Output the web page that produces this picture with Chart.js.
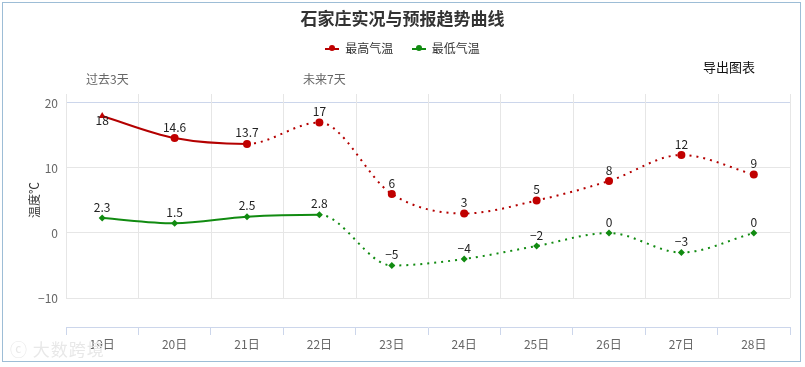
<!DOCTYPE html>
<html>
<head>
<meta charset="utf-8">
<script src="https://cdn.jsdelivr.net/npm/chart.js@4"></script>
<style>
  html, body { margin: 0; padding: 0; background: #fff; }
  body { width: 805px; height: 367px; position: relative; overflow: hidden;
         font-family: "Noto Sans CJK SC", "DejaVu Sans", sans-serif; }
  #frame { position: absolute; left: 2px; top: 2px; width: 797px; height: 358px; border: 1px solid #9dbdd6; }
  #wrap { position: absolute; left: 0; top: 0; width: 805px; height: 367px; }
  .txt { position: absolute; white-space: nowrap; line-height: 1; }
  #title { left: 0; width: 805px; text-align: center; top: 9px; font-size: 17px; font-weight: bold; color: #333; }
  #legend { left: 0; width: 805px; top: 42px; text-align: center; font-size: 12px; color: #333; }
  #legend span.item { display: inline-block; margin: 0 8px; }
  #legend i { display: inline-block; width: 14px; height: 2px; vertical-align: middle; position: relative; margin-right: 6px; top: -1px; }
  #legend i b { position: absolute; left: 4px; top: -3px; width: 6px; height: 6px; border-radius: 3px; }
  #yTitle { left: 34px; top: 200px; font-size: 12px; color: #333; transform: translate(-50%, -50%) rotate(-90deg); }
  #watermark { left: 10px; top: 340px; font-size: 17px; color: #e8e8e8; letter-spacing: 1px; }
</style>
</head>
<body>
<div id="frame"></div>
<div id="wrap"><canvas id="chart" width="805" height="367"></canvas></div>
<div class="txt" id="title">石家庄实况与预报趋势曲线</div>
<div class="txt" id="legend">
  <span class="item"><i style="background:#b40000"><b style="background:#c00000"></b></i>最高气温</span>
  <span class="item"><i style="background:#118b11"><b style="background:#118b11"></b></i>最低气温</span>
</div>
<div class="txt" style="left:703px; top:60px; font-size:13px; color:#111;">导出图表</div>
<div class="txt" style="left:86px; top:73px; font-size:12px; color:#666;">过去3天</div>
<div class="txt" style="left:303px; top:73px; font-size:12px; color:#666;">未来7天</div>
<div class="txt" id="yTitle">温度℃</div>
<div class="txt" id="watermark">ⓒ 大数跨境</div>
<script>
var days = ['19日', '20日', '21日', '22日', '23日', '24日', '25日', '26日', '27日', '28日'];
var highTemps = [18, 14.6, 13.7, 17, 6, 3, 5, 8, 12, 9];
var lowTemps = [2.3, 1.5, 2.5, 2.8, -5, -4, -2, 0, -3, 0];
var yTicks = [-10, 0, 10, 20];
var lastHighObserved = 2; // index where the high series turns into forecast
var lastLowObserved = 3;

var gridColor = '#e6e6e6';
var axisColor = '#ccd6eb';

function fmt(v) { return String(v).replace('-', '\u2212'); }

// value labels above each point
var labelPlugin = {
  id: 'pointLabels',
  afterDatasetsDraw: function(chart) {
    var ctx = chart.ctx;
    ctx.save();
    ctx.font = '12px "Noto Sans CJK SC", "DejaVu Sans", sans-serif';
    ctx.fillStyle = '#222';
    ctx.textAlign = 'center';
    ctx.textBaseline = 'middle';
    chart.data.datasets.forEach(function(ds, di) {
      var meta = chart.getDatasetMeta(di);
      meta.data.forEach(function(pt, i) {
        var dy = (di === 0 && i === 0) ? 4 : -11;
        ctx.fillText(fmt(ds.data[i]), pt.x, pt.y + dy);
      });
    });
    ctx.restore();
  }
};

// vertical grid lines between categories, only over the plot part (down to -10)
var columnGrid = {
  id: 'columnGrid',
  beforeDatasetsDraw: function(chart) {
    var x = chart.scales.x, y = chart.scales.y;
    var ctx = chart.ctx;
    var half = (x.getPixelForValue(1) - x.getPixelForValue(0)) / 2;
    var bottom = y.getPixelForValue(-10);
    ctx.save();
    ctx.strokeStyle = gridColor;
    ctx.lineWidth = 1;
    for (var i = 0; i <= days.length; i++) {
      var px = Math.round(x.getPixelForValue(0) - half + i * half * 2) + 0.5;
      ctx.beginPath();
      ctx.moveTo(px, chart.chartArea.top);
      ctx.lineTo(px, bottom);
      ctx.stroke();
    }
    ctx.restore();
  }
};

function dashAfter(idx) {
  return function(c) { return c.p0DataIndex >= idx ? [2, 5] : undefined; };
}

new Chart(document.getElementById('chart'), {
  type: 'line',
  data: {
    labels: days,
    datasets: [{
      label: '最高气温',
      data: highTemps,
      borderColor: '#b40000',
      backgroundColor: '#c00000',
      borderWidth: 2,
      pointRadius: 4,
      pointStyle: highTemps.map(function(v, i) { return i === 0 ? 'triangle' : 'circle'; }),
      pointBorderWidth: 0,
      cubicInterpolationMode: 'monotone',
      segment: { borderDash: dashAfter(lastHighObserved) }
    }, {
      label: '最低气温',
      data: lowTemps,
      borderColor: '#118b11',
      backgroundColor: '#118b11',
      borderWidth: 2,
      pointRadius: 3.5,
      pointStyle: 'rectRot',
      pointBorderWidth: 0,
      cubicInterpolationMode: 'monotone',
      segment: { borderDash: dashAfter(lastLowObserved) }
    }]
  },
  options: {
    responsive: false,
    animation: false,
    layout: { padding: { top: 94, right: 15, left: 0, bottom: 0 } },
    plugins: { legend: { display: false }, title: { display: false }, tooltip: { enabled: false } },
    scales: {
      x: {
        offset: true,
        grid: { offset: true, drawOnChartArea: false, drawTicks: true, tickLength: 8, color: axisColor },
        border: { color: axisColor },
        ticks: { color: '#666', padding: 2, font: { size: 12, family: '"Noto Sans CJK SC", sans-serif' } },
        afterFit: function(s) { s.height = 40; }
      },
      y: {
        min: -14.46,
        max: 21.38,
        afterBuildTicks: function(s) { s.ticks = yTicks.map(function(v) { return { value: v }; }); },
        grid: { color: function(c) { return c.tick && c.tick.value === 20 ? axisColor : gridColor; }, drawTicks: false },
        border: { display: false },
        ticks: { color: '#666', padding: 8, font: { size: 12, family: '"Noto Sans CJK SC", sans-serif' },
                 callback: function(v) { return fmt(v); } },
        afterFit: function(s) { s.width = 66; }
      }
    }
  },
  plugins: [columnGrid, labelPlugin]
});
</script>
</body>
</html>
